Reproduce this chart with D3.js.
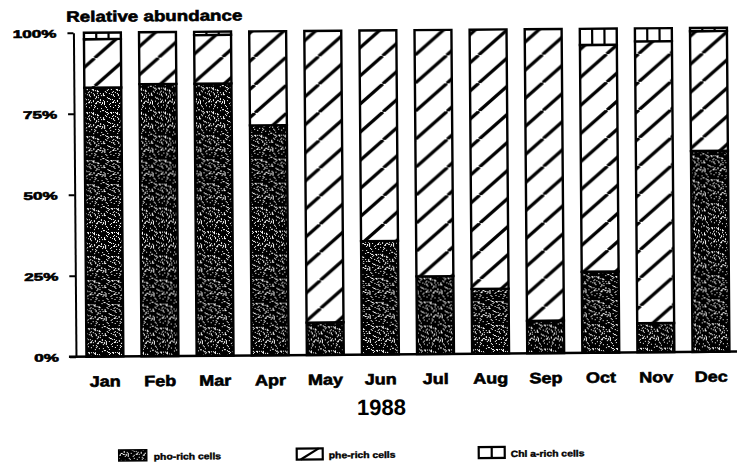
<!DOCTYPE html>
<html>
<head>
<meta charset="utf-8">
<script src="https://cdn.jsdelivr.net/npm/d3@7"></script>
<style>
  body { margin: 0; background: #fff; }
  svg { display: block; }
  text { font-family: "Liberation Sans", Arial, sans-serif; font-weight: bold; fill: #000; }
  text.heavy { stroke: #000; stroke-width: 0.6px; }
</style>
</head>
<body>
<svg id="chart" width="737" height="466"></svg>
<script>
// Monthly relative abundance of picoplankton cell types, 1988 (percent of total)
const months = ["Jan", "Feb", "Mar", "Apr", "May", "Jun", "Jul", "Aug", "Sep", "Oct", "Nov", "Dec"];
const phcRich = [83, 84, 84, 71, 10, 35, 24, 20, 10, 25, 9, 62];
const pheRich = [15, 16, 15, 29, 90, 65, 76, 80, 90, 70, 87, 37];
const chlRich = [2, 0, 1, 0, 0, 0, 0, 0, 0, 5, 4, 1];
const yTicks = [0, 25, 50, 75, 100];
const yTickLabels = ["0%", "25%", "50%", "75%", "100%"];
const legendLabels = ["pho-rich cells", "phe-rich cells", "Chl a-rich cells"];
const axisTitle = "Relative abundance";
const yearLabel = "1988";

const svg = d3.select("#chart");
const defs = svg.append("defs");

// dark speckled fill for the pho-rich segments (hashed dot layout, fixed)
const T = 24;
const speck = defs.append("pattern").attr("id", "speck")
  .attr("patternUnits", "userSpaceOnUse").attr("width", T).attr("height", T);
speck.append("rect").attr("width", T).attr("height", T).attr("fill", "#000");
let dots = "";
for (let i = 0; i < T; i++) {
  for (let j = 0; j < T; j++) {
    const h = (((i * 73856093) ^ (j * 19349663) ^ (i * j * 83492791)) >>> 0) % 100;
    if (h < 16) dots += `M${i},${j}h1v1h-1z`;
  }
}
speck.append("path").attr("d", dots).attr("fill", "#fff");

// diagonal hatch for the phe-rich segments
const hatch = defs.append("pattern").attr("id", "hatch")
  .attr("patternUnits", "userSpaceOnUse").attr("width", 32).attr("height", 28);
hatch.append("rect").attr("width", 32).attr("height", 28).attr("fill", "#fff");
hatch.append("path").attr("d", "M0,28L32,0M-32,28L0,0M32,28L64,0")
  .attr("stroke", "#000").attr("stroke-width", 3.2);

// stretch a text node horizontally by factor f
function stretch(sel, f) {
  sel.each(function () {
    const w = this.getComputedTextLength();
    this.setAttribute("textLength", w * f);
    this.setAttribute("lengthAdjust", "spacingAndGlyphs");
  });
}

const root = svg.append("g").attr("transform", "rotate(-0.45, 368, 233)");

const x = d3.scaleBand().domain(months).range([76.4, 737.6])
  .paddingInner(0.33).paddingOuter(0.165);
const y = d3.scaleLinear().domain([0, 100]).range([354.5, 30.5]);

const rows = months.map((m, i) => ({ month: m, phc: phcRich[i], phe: pheRich[i], chl: chlRich[i] }));
const series = d3.stack().keys(["phc", "phe", "chl"])(rows);
const fills = { phc: "url(#speck)", phe: "url(#hatch)", chl: "#fff" };

const bars = root.append("g");
series.forEach(s => {
  const segs = s.filter(d => d[1] - d[0] > 0);
  bars.append("g").selectAll("rect").data(segs).join("rect")
    .attr("x", d => x(d.data.month))
    .attr("y", d => y(d[1]))
    .attr("width", x.bandwidth())
    .attr("height", d => y(d[0]) - y(d[1]))
    .attr("fill", fills[s.key])
    .attr("stroke", "#000")
    .attr("stroke-width", 2.4);
  if (s.key === "chl") {
    // cell dividers inside the Chl a-rich segment
    bars.append("g").selectAll("path").data(segs).join("path")
      .attr("d", d => {
        const x0 = x(d.data.month), w = x.bandwidth();
        return [1, 2].map(k => `M${x0 + w * k / 3},${y(d[1])}V${y(d[0])}`).join("");
      })
      .attr("stroke", "#000").attr("stroke-width", 2.2);
  }
});

// baseline
root.append("line").attr("x1", 68).attr("x2", 737).attr("y1", y(0)).attr("y2", y(0))
  .attr("stroke", "#000").attr("stroke-width", 2.5);

// y axis
const yAxis = root.append("g").attr("transform", "translate(75,0)")
  .call(d3.axisLeft(y).tickValues(yTicks).tickFormat((d, i) => yTickLabels[i])
    .tickSize(6).tickSizeOuter(0).tickPadding(11));
yAxis.select(".domain").attr("stroke-width", 2);
yAxis.selectAll(".tick line").attr("stroke-width", 2);
yAxis.selectAll(".tick text").attr("class", "heavy").attr("font-size", 11).attr("dy", "0.38em")
  .attr("font-family", null).call(stretch, 1.55);

// y axis title
root.append("text").attr("class", "heavy").attr("x", 68).attr("y", 19.5).attr("font-size", 15)
  .text(axisTitle).call(stretch, 1.25);

// month labels
const xAxis = root.append("g").attr("transform", `translate(0,${y(0)})`)
  .call(d3.axisBottom(x).tickSize(0).tickPadding(0));
xAxis.select(".domain").remove();
xAxis.selectAll(".tick text").attr("class", "heavy").attr("font-size", 15).attr("font-family", null)
  .attr("y", 30).attr("dy", 0).call(stretch, 1.2);

// year
root.append("text").attr("x", 380).attr("y", 415).attr("text-anchor", "middle")
  .attr("font-size", 22).text(yearLabel);

// legend
const legendX = [117, 295, 477];
const legend = root.append("g");
legendLabels.forEach((lab, i) => {
  const g = legend.append("g").attr("transform", `translate(${legendX[i]},448)`);
  if (i === 0) {
    g.append("rect").attr("width", 28).attr("height", 11).attr("fill", "url(#speck)")
      .attr("stroke", "#000").attr("stroke-width", 1.5);
  } else if (i === 1) {
    g.append("rect").attr("width", 26).attr("height", 11).attr("fill", "#fff")
      .attr("stroke", "#000").attr("stroke-width", 2.2);
    g.append("path").attr("d", "M4,11L22,0").attr("stroke", "#000").attr("stroke-width", 2.2);
  } else {
    g.append("rect").attr("width", 26).attr("height", 11).attr("fill", "#fff")
      .attr("stroke", "#000").attr("stroke-width", 2.2);
    g.append("path").attr("d", "M13,0V11").attr("stroke", "#000").attr("stroke-width", 2.2);
  }
  g.append("text").attr("class", "heavy").attr("x", i === 0 ? 35 : 32).attr("y", 10).attr("font-size", 9)
    .style("stroke-width", "0.4px").text(lab).call(stretch, 1.15);
});
</script>
</body>
</html>
